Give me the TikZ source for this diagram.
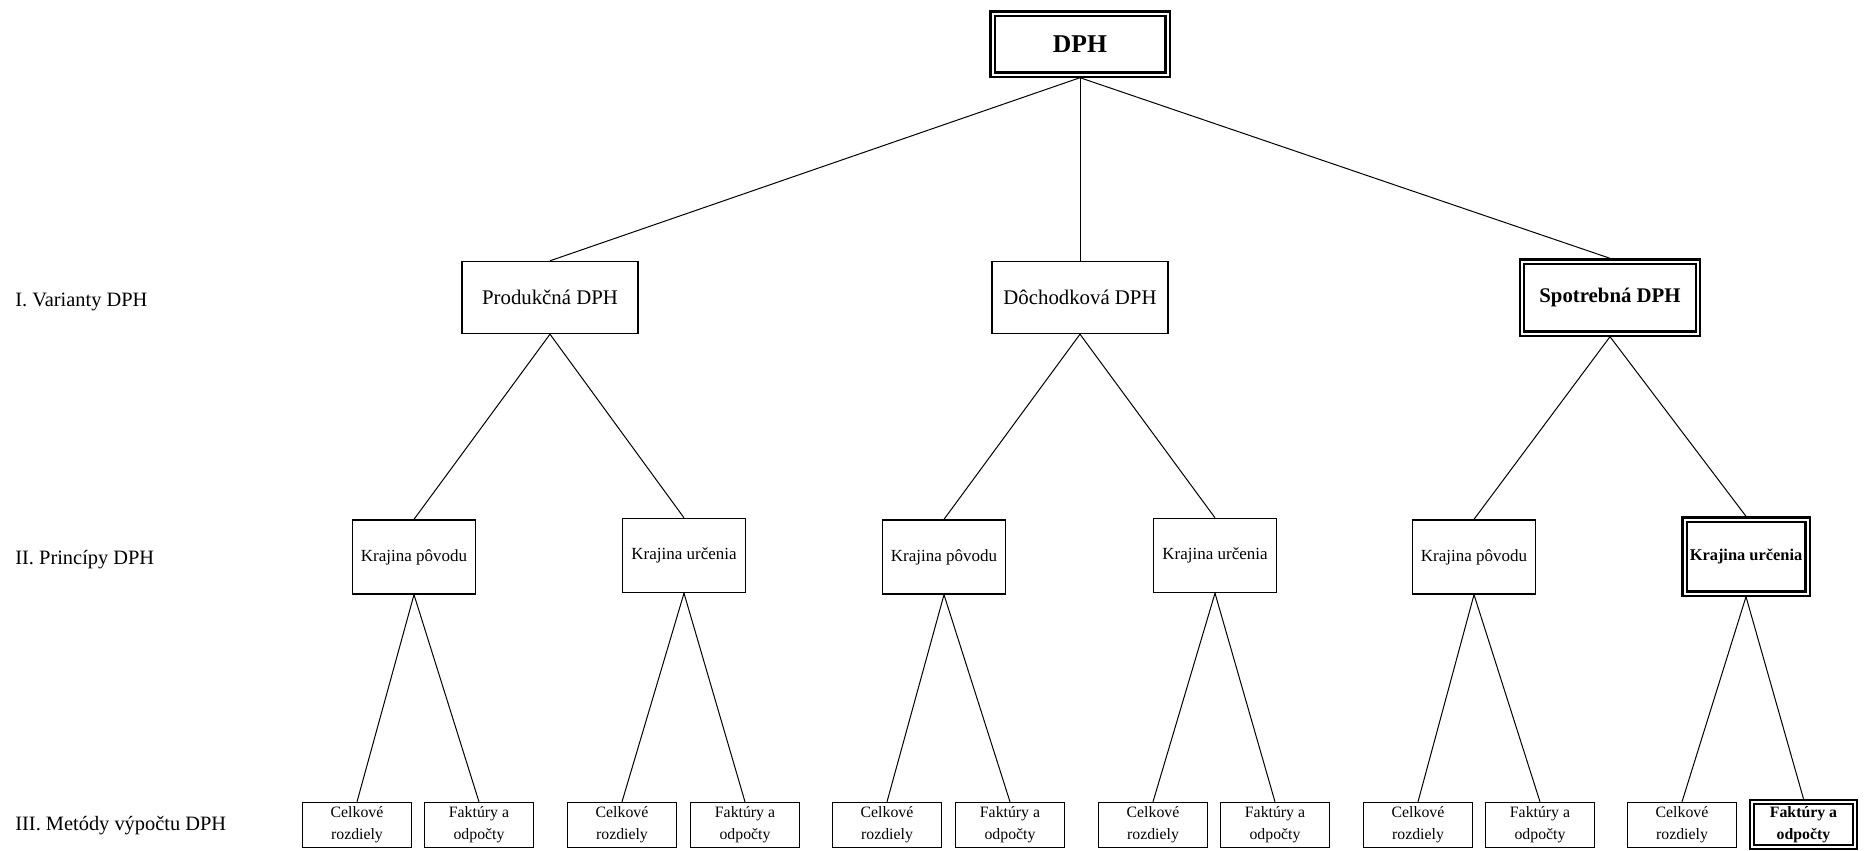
\documentclass[tikz,border=0pt]{standalone}
\usepackage{fontspec}
\setmainfont{Liberation Serif}

\begin{document}
\begin{tikzpicture}[
    x=0.5pt, y=-0.5pt, % 1 unit = 1 px of the page
    box/.style={draw, rectangle, line width=0.7pt, inner sep=2pt, align=center, fill=white},
    top_box/.style={box, minimum width=87.5pt, minimum height=30.5pt, font=\bfseries\fontsize{12.8}{15}\selectfont},
    var_box/.style={box, minimum width=88pt, minimum height=36pt, font=\fontsize{10.4}{12.5}\selectfont},
    prin_box/.style={box, minimum width=61.5pt, minimum height=37pt, font=\fontsize{8.5}{10}\selectfont},
    met_box/.style={box, minimum width=54.5pt, minimum height=22.5pt, font=\fontsize{7.9}{10.8}\selectfont},
    chosen/.style={double, double distance=1pt, line width=1.1pt, outer sep=1.6pt, font=\bfseries},
    line/.style={line width=0.5pt},
    level_text/.style={anchor=base west, inner sep=0pt, font=\fontsize{10.2}{12}\selectfont}
]
\useasboundingbox (0,0) rectangle (1865,851);

% --- Levels (left) ---
\node (lvl_one) [level_text] at (15,306) {I. Varianty DPH};
\node (lvl_two) [level_text] at (15,564) {II. Princípy DPH};
\node (lvl_three) [level_text] at (15,830) {III. Metódy výpočtu DPH};

% --- Root ---
\node (dph) [top_box, chosen, font=\bfseries\fontsize{12.8}{15}\selectfont] at (1080,44) {DPH};

% 1. Varianty
\node (produkcna) [var_box] at (550,297.5) {Produkčná DPH};
\node (dochodkova) [var_box] at (1080,297.5) {Dôchodková DPH};
\node (spotrebna) [var_box, chosen, font=\bfseries\fontsize{10.4}{12.5}\selectfont] at (1610,297.5) {Spotrebná DPH};

% 2. Princípy
\node (p_povod) [prin_box] at (414,557) {Krajina pôvodu};
\node (p_urcenie) [prin_box] at (684,555.5) {Krajina určenia};
\node (d_povod) [prin_box] at (944,557) {Krajina pôvodu};
\node (d_urcenie) [prin_box] at (1215,555.5) {Krajina určenia};
\node (s_povod) [prin_box] at (1474,557) {Krajina pôvodu};
\node (s_urcenie) [prin_box, chosen, font=\bfseries\fontsize{8.2}{10}\selectfont] at (1746,556.5) {Krajina určenia};

% 3. Metódy
\node (pp_celk) [met_box] at (357,825) {Celkové\\rozdiely};
\node (pp_fakt) [met_box] at (479,825) {Faktúry a\\odpočty};
\node (pu_celk) [met_box] at (622,825) {Celkové\\rozdiely};
\node (pu_fakt) [met_box] at (745,825) {Faktúry a\\odpočty};
\node (dp_celk) [met_box] at (887,825) {Celkové\\rozdiely};
\node (dp_fakt) [met_box] at (1010,825) {Faktúry a\\odpočty};
\node (du_celk) [met_box] at (1153,825) {Celkové\\rozdiely};
\node (du_fakt) [met_box] at (1275,825) {Faktúry a\\odpočty};
\node (sp_celk) [met_box] at (1418,825) {Celkové\\rozdiely};
\node (sp_fakt) [met_box] at (1540,825) {Faktúry a\\odpočty};
\node (su_celk) [met_box] at (1682,825) {Celkové\\rozdiely};
\node (su_fakt) [met_box, chosen, minimum width=51.5pt, font=\bfseries\fontsize{7.9}{10.8}\selectfont] at (1803.5,824.5) {Faktúry a\\odpočty};

% --- Connections ---
\draw [line] (dph.south) -- (produkcna.north);
\draw [line] (dph.south) -- (dochodkova.north);
\draw [line] (dph.south) -- (spotrebna.north);

\draw [line] (produkcna.south) -- (p_povod.north);
\draw [line] (produkcna.south) -- (p_urcenie.north);
\draw [line] (dochodkova.south) -- (d_povod.north);
\draw [line] (dochodkova.south) -- (d_urcenie.north);
\draw [line] (spotrebna.south) -- (s_povod.north);
\draw [line] (spotrebna.south) -- (s_urcenie.north);

\draw [line] (p_povod.south) -- (pp_celk.north);
\draw [line] (p_povod.south) -- (pp_fakt.north);
\draw [line] (p_urcenie.south) -- (pu_celk.north);
\draw [line] (p_urcenie.south) -- (pu_fakt.north);
\draw [line] (d_povod.south) -- (dp_celk.north);
\draw [line] (d_povod.south) -- (dp_fakt.north);
\draw [line] (d_urcenie.south) -- (du_celk.north);
\draw [line] (d_urcenie.south) -- (du_fakt.north);
\draw [line] (s_povod.south) -- (sp_celk.north);
\draw [line] (s_povod.south) -- (sp_fakt.north);
\draw [line] (s_urcenie.south) -- (su_celk.north);
\draw [line] (s_urcenie.south) -- (su_fakt.north);

\end{tikzpicture}
\end{document}
